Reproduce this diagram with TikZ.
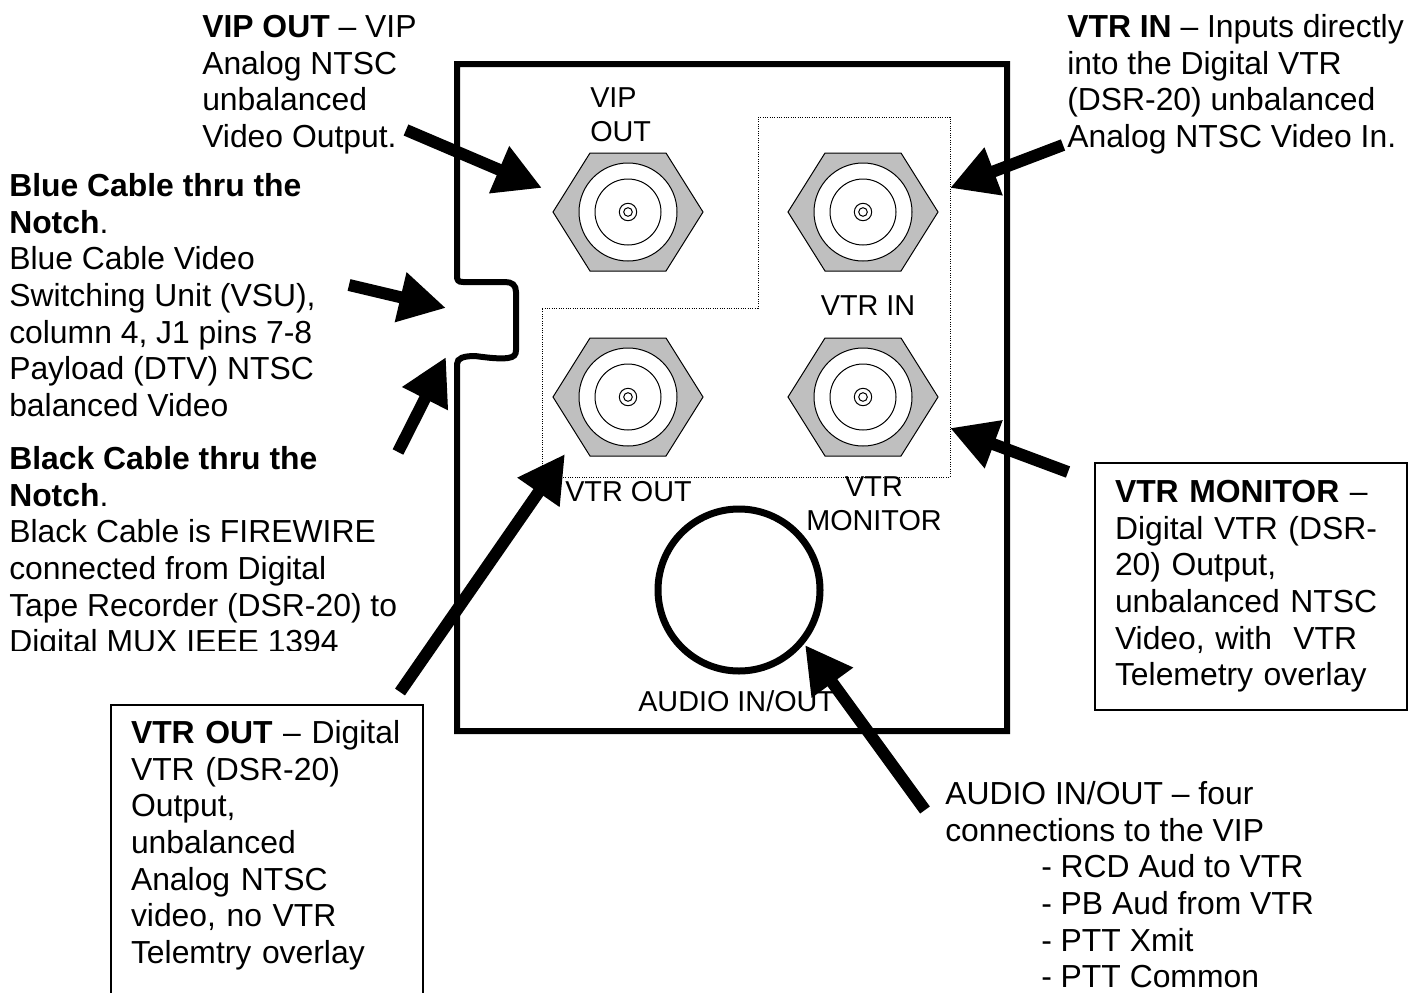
\documentclass[tikz,border=0pt]{standalone}
\usepackage{fontspec}
\setmainfont{Liberation Sans}
\usepackage{xcolor}
\usetikzlibrary{arrows.meta}
\definecolor{hexgray}{HTML}{BFBFBF}

\begin{document}
\begin{tikzpicture}[
  x=0.75pt, y=-0.75pt,
  txt/.style={
    anchor=north west, inner sep=0pt, align=left,
    font=\fontsize{23.9}{27.5}\selectfont
  },
  lbl/.style={
    inner sep=0pt, align=center,
    font=\fontsize{21.6}{25.5}\selectfont
  },
  callout/.style={
    txt, draw, line width=1.5pt, text width=204pt,
    inner xsep=15pt, inner ysep=11.5pt
  },
  wall/.style={line width=4.5pt},
  arr/.style={-{Triangle[length=35pt, width=36pt]}, line width=9pt},
  bnc/.pic={
    \draw[fill=hexgray, line width=0.75pt] (-75,0) -- (-38,-59) -- (38,-59) -- (75,0) -- (38,59) -- (-38,59) -- cycle;
    \draw[fill=white, line width=0.75pt] (0,0) circle (49);
    \draw[line width=0.75pt] (0,0) circle (33);
    \draw[line width=0.75pt] (0,0) circle (8.7);
    \draw[line width=0.75pt] (0,0) circle (4.3);
  },
]
\clip (0,0) rectangle (1420,992);

% Panel with the notch
\draw[wall] (457,64) -- (1007,64) -- (1007,731) -- (457,731) -- (457,364)
  .. controls (457,358) and (464,356) .. (475,356)
  .. controls (490,358) and (500,359) .. (508,358)
  .. controls (514,357) and (516,355) .. (516,350) -- (516,292)
  .. controls (516,285) and (512,282) .. (505,282) -- (463,282)
  .. controls (458,282) and (457,280) .. (457,276) -- cycle;

% Dotted group
\draw[densely dotted, line width=0.75pt] (758,117) -- (950,117) -- (950,477)
  -- (542,477) -- (542,308) -- (758,308) -- cycle;

% Connectors
\pic (vipout) at (628,212) {bnc};
\pic (vtrin) at (863,212) {bnc};
\pic (vtrout) at (628,397) {bnc};
\pic (vtrmon) at (863,397) {bnc};
\draw[line width=5.25pt] (739,590) circle (81);

% Labels on the panel
\node[lbl, align=left, anchor=north west] (lblvip) at (590,87) {VIP\\OUT};
\node[lbl] (lblvtrin) at (868,306) {VTR IN};
\node[lbl, anchor=west] (lblvtrout) at (565,492) {VTR OUT};
\node[lbl] (lblvtrmon) at (874,504) {VTR\hspace{9pt}\\MONITOR};
\node[lbl, anchor=west] (lblaudio) at (638,701) {AUDIO IN/OUT};

% Descriptions
\node[txt] (vipouttxt) at (202,15) {\textbf{VIP OUT} -- VIP\\Analog NTSC\\unbalanced\\Video Output.};
\node[txt] (vtrintxt) at (1067,14) {\textbf{VTR IN} -- Inputs directly\\into the Digital VTR\\(DSR-20) unbalanced\\Analog NTSC Video In.};
\node[txt] (bluetxt) at (9,173) {\textbf{Blue Cable thru the}\\\textbf{Notch}.\\Blue Cable Video\\Switching Unit (VSU),\\column 4, J1 pins 7-8\\Payload (DTV) NTSC\\balanced Video};
\begin{scope}
  \clip (0,440) rectangle (450,650);
  \node[txt] (blacktxt) at (9,446) {\textbf{Black Cable thru the}\\\textbf{Notch}.\\Black Cable is FIREWIRE\\connected from Digital\\Tape Recorder (DSR-20) to\\Digital MUX IEEE 1394};
\end{scope}
\node[callout, inner ysep=13pt] (montxt) at (1094,462) {\textbf{VTR MONITOR} --\\Digital VTR (DSR-\\20) Output,\\unbalanced NTSC\\Video, with\ \ VTR\\Telemetry overlay};
\node[callout] (vtrouttxt) at (110,704) {\textbf{VTR OUT} -- Digital\\VTR (DSR-20)\\Output,\\unbalanced\\Analog NTSC\\video, no VTR\\Telemtry overlay\\\mbox{}};
\node[txt] (audiotxt) at (945,781) {AUDIO IN/OUT -- four\\connections to the VIP\\\hspace{72pt}- RCD Aud to VTR\\\hspace{72pt}- PB Aud from VTR\\\hspace{72pt}- PTT Xmit\\\hspace{72pt}- PTT Common};

% Arrow ends
\coordinate (a1) at (406,130);  \coordinate (b1) at (542,188);
\coordinate (a2) at (1063,145); \coordinate (b2) at (950,188);
\coordinate (a3) at (349,285);  \coordinate (b3) at (446,308);
\coordinate (a4) at (398,452);  \coordinate (b4) at (446,357);
\coordinate (a5) at (1068,472); \coordinate (b5) at (950,428);
\coordinate (a6) at (400,692);  \coordinate (b6) at (565,454);
\coordinate (a7) at (925,810);  \coordinate (b7) at (805,645);

% Arrows
\foreach \i in {1,...,7}
  \draw[arr] (a\i) -- (b\i);
\end{tikzpicture}
\end{document}
